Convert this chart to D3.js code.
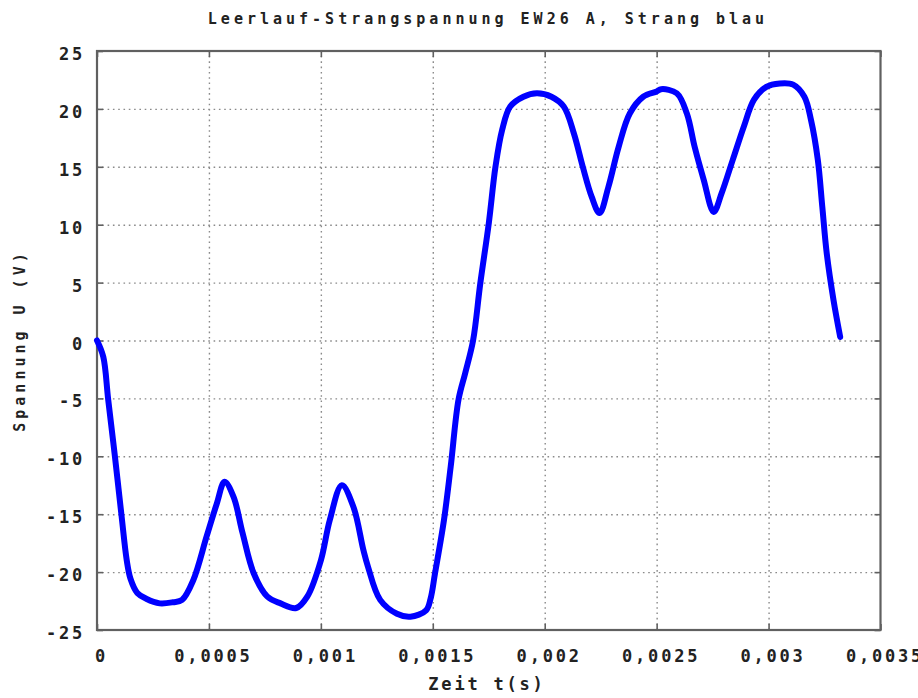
<!DOCTYPE html>
<html>
<head>
<meta charset="utf-8">
<script src="https://cdn.jsdelivr.net/npm/d3@7"></script>
<style>
  body { margin: 0; background: #fff; }
  svg { display: block; }
  text { font-family: 'DejaVu Sans Mono', monospace; fill: #222; }
</style>
</head>
<body>
<div id="chart"></div>
<script>
'use strict';

var timeS = [
  0, 0.000028, 0.00005, 0.00008, 0.00011, 0.000133, 0.00015, 0.00018, 0.00022,
  0.00028, 0.00034, 0.00038, 0.00043, 0.00049, 0.000535, 0.00057, 0.00061, 0.00065, 0.0007,
  0.00076, 0.00082, 0.00089, 0.00094, 0.001, 0.00104, 0.001094, 0.001146, 0.00119, 0.00121,
  0.001265, 0.00134, 0.0014, 0.00147, 0.00149, 0.00151, 0.00155, 0.00158, 0.001615, 0.001645,
  0.00168, 0.001712, 0.00175, 0.00178, 0.00181, 0.001846, 0.001905, 0.001965, 0.00203, 0.002085,
  0.00213, 0.00217, 0.00221, 0.002245, 0.002285, 0.00233, 0.00238, 0.00244, 0.0025, 0.00252,
  0.00259, 0.002635, 0.00267, 0.00271, 0.002755, 0.00279, 0.00284, 0.00289, 0.002935, 0.00299,
  0.00305, 0.00311, 0.00316, 0.00319, 0.00322, 0.00324, 0.00326, 0.00329, 0.00332
];
var voltage = [
  0, -1.4, -5.1, -10.0, -15.2, -19.0, -20.6, -21.8, -22.3,
  -22.7, -22.6, -22.4, -20.7, -16.9, -14.1, -12.2, -13.5, -16.6, -20.1,
  -22.1, -22.7, -23.1, -22.1, -19.0, -15.5, -12.5, -14.4, -18.1, -19.5,
  -22.4, -23.6, -23.85, -23.3, -22.3, -20.1, -15.5, -10.9, -5.1, -2.8,
  0, 4.9, 10.1, 15.0, 18.2, 20.2, 21.05, 21.35, 21.05, 20.2,
  17.9, 15.0, 12.4, 11.0, 13.3, 16.7, 19.6, 21.05, 21.5, 21.7,
  21.35, 19.6, 16.7, 13.9, 11.1, 12.7, 15.6, 18.5, 20.8, 21.9,
  22.2, 22.1, 21.05, 19.0, 15.6, 11.55, 7.5, 3.5, 0.3
];

var xTicks = [0, 0.0005, 0.001, 0.0015, 0.002, 0.0025, 0.003, 0.0035];
var xTickLabels = ['0', '0,0005', '0,001', '0,0015', '0,002', '0,0025', '0,003', '0,0035'];
var yTicks = [-25, -20, -15, -10, -5, 0, 5, 10, 15, 20, 25];
var yTickLabels = ['-25', '-20', '-15', '-10', '-5', '0', '5', '10', '15', '20', '25'];

var title = 'Leerlauf-Strangspannung EW26 A, Strang blau';
var xTitle = 'Zeit t(s)';
var yTitle = 'Spannung U (V)';

var W = 918, H = 698;
var plotLeft = 97, plotRight = 880.5, plotTop = 51, plotBottom = 630;

var svg = d3.select('#chart').append('svg')
  .attr('width', W)
  .attr('height', H);

var x = d3.scaleLinear().domain([0, 0.0035]).range([plotLeft, plotRight]);
var y = d3.scaleLinear().domain([-25, 25]).range([plotBottom, plotTop]);

var gridColor = '#8a8a8a';
var borderColor = '#606060';

// grid
var xGrid = svg.append('g')
  .attr('transform', 'translate(0,' + plotBottom + ')')
  .call(d3.axisBottom(x).tickValues(xTicks.slice(1, -1)).tickSize(-(plotBottom - plotTop)).tickFormat(''));
var yGrid = svg.append('g')
  .attr('transform', 'translate(' + plotLeft + ',0)')
  .call(d3.axisLeft(y).tickValues(yTicks.slice(1, -1)).tickSize(-(plotRight - plotLeft)).tickFormat(''));
[xGrid, yGrid].forEach(function (g) {
  g.select('.domain').remove();
  g.selectAll('line')
    .attr('stroke', gridColor)
    .attr('stroke-width', 1.4)
    .attr('stroke-dasharray', '1.6,3.7');
});

// inward tick marks on all four sides, labels on bottom and left
function styleTicks(g) {
  g.select('.domain').remove();
  g.selectAll('line').attr('stroke', borderColor).attr('stroke-width', 1.6);
}

var xAxis = svg.append('g')
  .attr('transform', 'translate(0,' + plotBottom + ')')
  .call(d3.axisBottom(x).tickValues(xTicks).tickSize(-6).tickPadding(20)
    .tickFormat(function (d, i) { return xTickLabels[i]; }));
styleTicks(xAxis);

var yAxis = svg.append('g')
  .attr('transform', 'translate(' + plotLeft + ',0)')
  .call(d3.axisLeft(y).tickValues(yTicks).tickSize(-6).tickPadding(12)
    .tickFormat(function (d, i) { return yTickLabels[i]; }));
styleTicks(yAxis);

styleTicks(svg.append('g')
  .attr('transform', 'translate(0,' + plotTop + ')')
  .call(d3.axisTop(x).tickValues(xTicks).tickSize(-6).tickFormat('')));
styleTicks(svg.append('g')
  .attr('transform', 'translate(' + plotRight + ',0)')
  .call(d3.axisRight(y).tickValues(yTicks).tickSize(-6).tickFormat('')));

[xAxis, yAxis].forEach(function (g) {
  g.selectAll('text')
    .style('font-family', "'DejaVu Sans Mono', monospace")
    .style('font-size', '17px')
    .style('font-weight', 'bold')
    .style('letter-spacing', '2.8px')
    .attr('fill', '#2a2a2a');
});
xAxis.selectAll('text').attr('dx', 4);
yAxis.selectAll('text').attr('dy', '0.5em');

// border
svg.append('rect')
  .attr('x', plotLeft)
  .attr('y', plotTop)
  .attr('width', plotRight - plotLeft)
  .attr('height', plotBottom - plotTop)
  .attr('fill', 'none')
  .attr('stroke', borderColor)
  .attr('stroke-width', 2.2);

// voltage trace
var points = timeS.map(function (t, i) { return [t, voltage[i]]; });
var line = d3.line()
  .x(function (d) { return x(d[0]); })
  .y(function (d) { return y(d[1]); })
  .curve(d3.curveCatmullRom.alpha(0.5));

svg.append('path')
  .datum(points)
  .attr('d', line)
  .attr('fill', 'none')
  .attr('stroke', '#0000ff')
  .attr('stroke-width', 6)
  .attr('stroke-linejoin', 'round')
  .attr('stroke-linecap', 'round');

// titles
svg.append('text')
  .attr('x', 488)
  .attr('y', 24)
  .attr('text-anchor', 'middle')
  .style('font-size', '15px')
  .style('font-weight', 'bold')
  .style('letter-spacing', '4px')
  .attr('fill', '#333')
  .text(title);

svg.append('text')
  .attr('x', 487)
  .attr('y', 690)
  .attr('text-anchor', 'middle')
  .style('font-size', '17px')
  .style('font-weight', 'bold')
  .style('letter-spacing', '2.8px')
  .text(xTitle);

svg.append('text')
  .attr('transform', 'translate(25,' + y(0) + ') rotate(-90)')
  .attr('text-anchor', 'middle')
  .style('font-size', '15px')
  .style('font-weight', 'bold')
  .style('letter-spacing', '4px')
  .attr('fill', '#333')
  .text(yTitle);
</script>
</body>
</html>
